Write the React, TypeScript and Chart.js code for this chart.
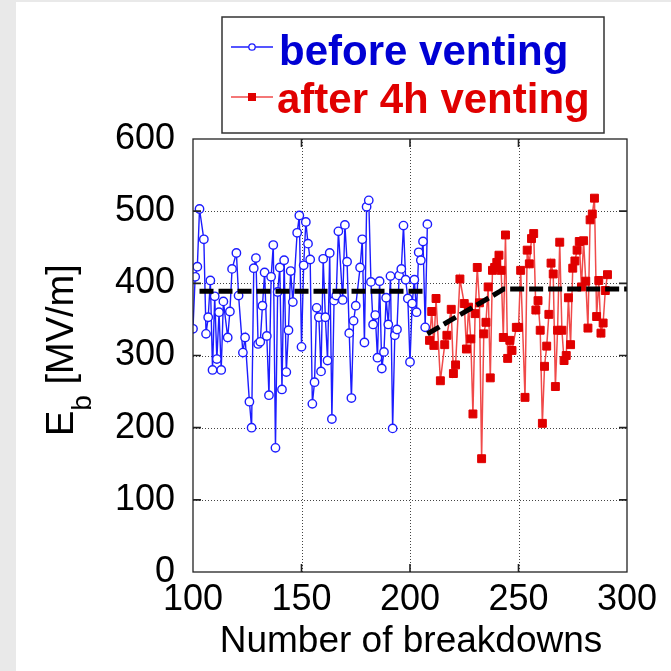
import { useEffect, useRef } from 'react';
import { Chart, registerables } from 'chart.js';

Chart.register(...registerables);

const FONT = "'Liberation Sans', Arial, Helvetica, sans-serif";

// Breakdown field E_b [MV/m] versus breakdown number, before venting
const blueN = [
  100, 101, 102, 103, 105, 106, 107, 108, 109, 110, 111, 112, 113, 114, 116, 117, 118, 120, 121, 123,
  124, 126, 127, 128, 129, 130, 131, 132, 133, 134, 135, 136, 137, 138, 139, 140, 141, 142, 143, 144,
  145, 146, 148, 149, 150, 151, 152, 153, 154, 155, 156, 157, 158, 159, 160, 161, 162, 163, 164, 165,
  166, 167, 169, 170, 171, 172, 173, 174, 175, 177, 178, 179, 180, 181, 182, 183, 184, 185, 186, 187,
  188, 189, 190, 191, 192, 193, 194, 195, 196, 197, 198, 199, 200, 201, 202, 203, 204, 205, 206, 207,
  208,
];
const blueEb = [
  337, 409, 423, 503, 461, 330, 353, 404, 280, 382, 295, 360, 280, 375, 325, 361, 420, 442, 383, 304,
  325, 236, 200, 421, 435, 316, 319, 369, 415, 327, 245, 409, 453, 172, 388, 422, 253, 432, 277, 335,
  417, 374, 470, 494, 312, 425, 485, 455, 433, 233, 263, 366, 353, 278, 434, 353, 293, 442, 212, 376,
  383, 472, 377, 481, 430, 331, 241, 348, 369, 422, 461, 318, 506, 515, 402, 343, 356, 297, 403, 282,
  305, 380, 343, 410, 199, 328, 336, 411, 420, 480, 405, 379, 291, 372, 405, 360, 443, 432, 458, 339,
  482,
];

// After 4h venting
const redN = [
  209, 210, 211, 212, 214, 216, 217, 219, 220, 221, 223, 225, 226, 227, 228, 229, 230, 231, 232, 233,
  234, 235, 236, 237, 238, 239, 240, 241, 242, 243, 244, 245, 246, 247, 249, 250, 251, 253, 254, 255,
  256, 257, 258, 259, 260, 261, 262, 263, 264, 265, 266, 267, 268, 269, 270, 271, 272, 273, 274, 275,
  276, 277, 278, 279, 280, 281, 282, 283, 284, 285, 286, 287, 288, 289, 290, 291,
];
const redEb = [
  321, 361, 314, 379, 265, 315, 328, 364, 275, 287, 406, 372, 309, 367, 323, 219, 358, 422, 373, 157,
  330, 346, 395, 269, 418, 422, 429, 439, 418, 325, 467, 296, 321, 307, 339, 339, 418, 242, 446, 427,
  462, 469, 363, 376, 335, 206, 285, 313, 357, 428, 413, 257, 335, 457, 335, 293, 300, 380, 315, 421,
  431, 446, 458, 395, 459, 403, 338, 488, 496, 518, 354, 404, 331, 345, 390, 412,
];

// Mean-level guide lines
const blueMeanN = [103, 207];
const blueMeanEb = [389, 389];
const redMeanN = [208, 241, 243, 300];
const redMeanEb = [330, 388, 392, 392];

const xTicks = [100, 150, 200, 250, 300];
const yTicks = [0, 100, 200, 300, 400, 500, 600];

const seriesLabels = ['before venting', 'after 4h venting'];
const xTitle = 'Number of breakdowns';
const yTitleMain = 'E';
const yTitleSub = 'b';
const yTitleUnit = ' [MV/m]';

const BLUE_LINE = '#1c1cff';
const BLUE_TEXT = '#0000d4';
const RED_LINE = '#f04a4a';
const RED_MARK = '#e00000';
const RED_TEXT = '#e00000';

const pairs = (xs: number[], ys: number[]) => xs.map((x, i) => ({ x, y: ys[i] }));

const decor = {
  id: 'decor',
  beforeDraw(chart: any) {
    const { ctx, width, height } = chart;
    ctx.save();
    ctx.fillStyle = '#e9e9e9';
    ctx.fillRect(0, 0, width, height);
    ctx.fillStyle = '#ffffff';
    ctx.fillRect(16, 2, width - 16, height - 2);
    ctx.restore();
  },
  beforeDatasetsDraw(chart: any) {
    const { ctx, chartArea: a } = chart;
    const xs = chart.scales.x;
    const ys = chart.scales.y;
    ctx.save();
    ctx.strokeStyle = '#444';
    ctx.lineWidth = 1;
    ctx.setLineDash([1, 2]);
    xTicks.slice(1, -1).forEach((v) => {
      const px = Math.round(xs.getPixelForValue(v)) + 0.5;
      ctx.beginPath();
      ctx.moveTo(px, a.top);
      ctx.lineTo(px, a.bottom);
      ctx.stroke();
    });
    yTicks.slice(1, -1).forEach((v) => {
      const py = Math.round(ys.getPixelForValue(v)) + 0.5;
      ctx.beginPath();
      ctx.moveTo(a.left, py);
      ctx.lineTo(a.right, py);
      ctx.stroke();
    });
    ctx.restore();
  },
  afterDatasetsDraw(chart: any) {
    const { ctx, chartArea: a } = chart;
    const xs = chart.scales.x;
    const ys = chart.scales.y;
    const len = 8;
    ctx.save();
    ctx.strokeStyle = '#222';
    ctx.lineWidth = 1.3;
    ctx.strokeRect(a.left, a.top, a.right - a.left, a.bottom - a.top);
    ctx.lineWidth = 1.6;
    xTicks.slice(1, -1).forEach((v) => {
      const px = xs.getPixelForValue(v);
      ctx.beginPath();
      ctx.moveTo(px, a.bottom);
      ctx.lineTo(px, a.bottom - len);
      ctx.moveTo(px, a.top);
      ctx.lineTo(px, a.top + len);
      ctx.stroke();
    });
    yTicks.slice(1, -1).forEach((v) => {
      const py = ys.getPixelForValue(v);
      ctx.beginPath();
      ctx.moveTo(a.left, py);
      ctx.lineTo(a.left + len, py);
      ctx.moveTo(a.right, py);
      ctx.lineTo(a.right - len, py);
      ctx.stroke();
    });
    ctx.restore();
  },
  afterDraw(chart: any) {
    const { ctx, chartArea: a } = chart;
    ctx.save();
    ctx.fillStyle = '#000';

    // x-axis title
    ctx.font = `37px ${FONT}`;
    ctx.textAlign = 'center';
    ctx.textBaseline = 'alphabetic';
    ctx.fillText(xTitle, (a.left + a.right) / 2 + 1, 652);

    // y-axis title with subscript
    ctx.save();
    ctx.translate(73, 436);
    ctx.rotate(-Math.PI / 2);
    ctx.textAlign = 'left';
    ctx.font = `38px ${FONT}`;
    ctx.fillText(yTitleMain, 0, 0);
    let w = ctx.measureText(yTitleMain).width;
    ctx.font = `28px ${FONT}`;
    ctx.fillText(yTitleSub, w, 18);
    w += ctx.measureText(yTitleSub).width;
    ctx.font = `38px ${FONT}`;
    ctx.fillText(yTitleUnit, w, 0);
    ctx.restore();

    // legend box
    ctx.strokeStyle = '#333';
    ctx.lineWidth = 1.5;
    ctx.strokeRect(222, 17, 382, 116);

    ctx.lineWidth = 1.3;
    ctx.strokeStyle = BLUE_LINE;
    ctx.beginPath();
    ctx.moveTo(231, 47);
    ctx.lineTo(273, 47);
    ctx.stroke();
    ctx.beginPath();
    ctx.arc(252, 47, 3.2, 0, Math.PI * 2);
    ctx.fillStyle = '#fff';
    ctx.fill();
    ctx.stroke();

    ctx.strokeStyle = RED_LINE;
    ctx.beginPath();
    ctx.moveTo(231, 97);
    ctx.lineTo(273, 97);
    ctx.stroke();
    ctx.fillStyle = RED_MARK;
    ctx.fillRect(248, 93, 8, 8);

    ctx.font = `bold 42px ${FONT}`;
    ctx.textAlign = 'left';
    ctx.fillStyle = BLUE_TEXT;
    ctx.fillText(seriesLabels[0], 279, 65);
    ctx.fillStyle = RED_TEXT;
    ctx.fillText(seriesLabels[1], 277, 113);
    ctx.restore();
  },
};

export default function App() {
  const ref = useRef<HTMLCanvasElement | null>(null);

  useEffect(() => {
    document.body.style.margin = '0';
    const canvas = ref.current;
    if (!canvas) return;
    const chart = new Chart(canvas, {
      type: 'line',
      data: {
        datasets: [
          {
            label: 'mean before',
            data: pairs(blueMeanN, blueMeanEb),
            borderColor: '#000',
            borderWidth: 5,
            borderDash: [14, 5],
            pointRadius: 0,
            fill: false,
            order: 0,
          },
          {
            label: 'mean after',
            data: pairs(redMeanN, redMeanEb),
            borderColor: '#000',
            borderWidth: 5,
            borderDash: [14, 5],
            pointRadius: 0,
            fill: false,
            order: 0,
          },
          {
            label: seriesLabels[0],
            data: pairs(blueN, blueEb),
            borderColor: BLUE_LINE,
            borderWidth: 1.4,
            pointStyle: 'circle',
            pointRadius: 4.2,
            pointBorderWidth: 1.4,
            pointBackgroundColor: '#fff',
            pointBorderColor: BLUE_LINE,
            fill: false,
            order: 1,
          },
          {
            label: seriesLabels[1],
            data: pairs(redN, redEb),
            borderColor: RED_LINE,
            borderWidth: 1.5,
            pointStyle: 'rect',
            pointRadius: 5.6,
            pointBorderWidth: 1,
            pointBackgroundColor: RED_MARK,
            pointBorderColor: RED_MARK,
            fill: false,
            order: 2,
          },
        ],
      },
      options: {
        animation: false,
        responsive: false,
        devicePixelRatio: 1,
        layout: { padding: { top: 139, right: 44, left: 0, bottom: 0 } },
        plugins: { legend: { display: false }, tooltip: { enabled: false } },
        elements: { line: { tension: 0 } },
        scales: {
          x: {
            type: 'linear',
            min: 100,
            max: 300,
            afterBuildTicks: (s: any) => {
              s.ticks = xTicks.map((v) => ({ value: v }));
            },
            ticks: {
              color: '#000',
              font: { family: FONT, size: 36 },
              padding: 6,
              maxRotation: 0,
              autoSkip: false,
            },
            grid: { display: false, drawTicks: false },
            border: { display: false },
            afterFit: (s: any) => {
              s.height = 99;
            },
          },
          y: {
            type: 'linear',
            min: 0,
            max: 600,
            afterBuildTicks: (s: any) => {
              s.ticks = yTicks.map((v) => ({ value: v }));
            },
            ticks: {
              color: '#000',
              font: { family: FONT, size: 36 },
              padding: 18,
              autoSkip: false,
            },
            grid: { display: false, drawTicks: false },
            border: { display: false },
            afterFit: (s: any) => {
              s.width = 193;
            },
          },
        },
      },
      plugins: [decor],
    });
    return () => chart.destroy();
  }, []);

  return (
    <div style={{ position: 'fixed', left: 0, top: 0, width: 671, height: 671 }}>
      <canvas ref={ref} width={671} height={671} style={{ width: 671, height: 671, display: 'block' }} />
    </div>
  );
}
